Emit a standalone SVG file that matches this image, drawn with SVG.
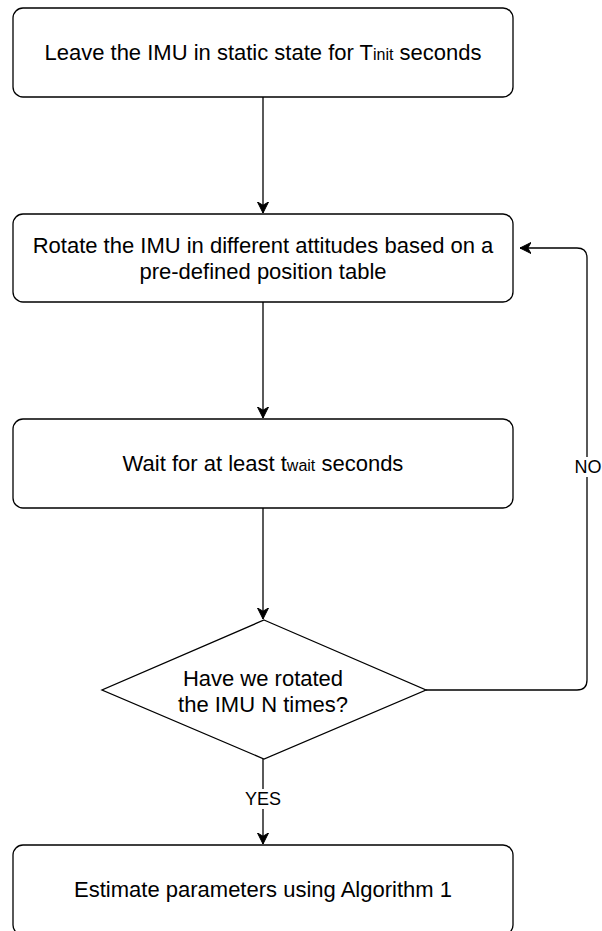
<svg xmlns="http://www.w3.org/2000/svg" width="602" height="931" viewBox="0 0 602 931">
<style>
.box{fill:#fff;stroke:#000;stroke-width:1.3}
.t{font-family:"Liberation Sans",Arial,Helvetica,sans-serif;font-size:22px;fill:#000;text-anchor:middle}
.s{font-size:16px}
.lbl{font-family:"Liberation Sans",Arial,Helvetica,sans-serif;font-size:18px;fill:#000;text-anchor:middle}
.edge{fill:none;stroke:#000;stroke-width:1.3}
</style>
<defs>
<marker id="arr" markerUnits="userSpaceOnUse" markerWidth="12" markerHeight="12" viewBox="0 0 12 12" refX="11" refY="6" orient="auto">
<path d="M0,0.5 L11,6 L0,11.5 L3.2,6 Z" fill="#000" stroke="#000" stroke-width="1"/>
</marker>
</defs>
<rect width="602" height="931" fill="#fff"/>
<g id="edges">
<path class="edge" d="M263,97 V213" marker-end="url(#arr)"/>
<path class="edge" d="M263,302 V418" marker-end="url(#arr)"/>
<path class="edge" d="M263,508 V619" marker-end="url(#arr)"/>
<path class="edge" d="M263,759 V844" marker-end="url(#arr)"/>
<path class="edge" d="M426,690 H577 Q587,690 587,680 V258 Q587,248 577,248 H520" marker-end="url(#arr)"/>
<g id="label-yes">
<rect x="245" y="789" width="36" height="20" fill="#fff"/>
<text class="lbl" x="263" y="805">YES</text>
</g>
<g id="label-no">
<rect x="574" y="457" width="28" height="20" fill="#fff"/>
<text class="lbl" x="588" y="473">NO</text>
</g>
</g>
<g id="n1">
<rect class="box" x="13" y="8" width="500" height="89" rx="10" ry="10"/>
<text class="t" x="263" y="60">Leave the IMU in static state for T<tspan class="s">init</tspan> seconds</text>
</g>
<g id="n2">
<rect class="box" x="13" y="214" width="500" height="88" rx="10" ry="10"/>
<text class="t" x="263" y="253">Rotate the IMU in different attitudes based on a</text>
<text class="t" x="263" y="279">pre-defined position table</text>
</g>
<g id="n3">
<rect class="box" x="13" y="419" width="500" height="89" rx="10" ry="10"/>
<text class="t" x="263" y="471">Wait for at least t<tspan class="s">wait</tspan> seconds</text>
</g>
<g id="n4">
<path class="box" d="M264,620 L426,690 L264,759 L102,690 Z"/>
<text class="t" x="263" y="686">Have we rotated</text>
<text class="t" x="263" y="712">the IMU N times?</text>
</g>
<g id="n5">
<rect class="box" x="13" y="845" width="500" height="90" rx="10" ry="10"/>
<text class="t" x="263" y="897">Estimate parameters using Algorithm 1</text>
</g>
</svg>
